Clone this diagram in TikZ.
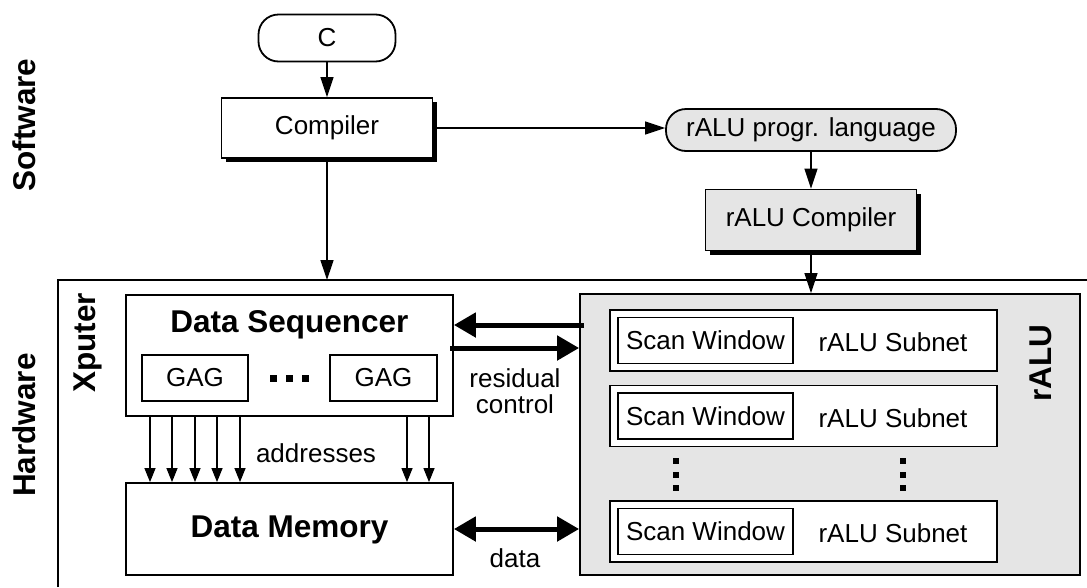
\documentclass[tikz,border=0pt]{standalone}
\usepackage{fontspec}
\setmainfont{Liberation Sans}
\usetikzlibrary{arrows.meta,shadows}
\begin{document}
\begin{tikzpicture}[x=1pt,y=-1pt,
  txt/.style={font=\fontsize{26}{30}\selectfont},
  btxt/.style={font=\bfseries\fontsize{31.5}{36}\selectfont},
  box/.style={draw,line width=1.8pt,fill=white,minimum width=#1,inner sep=0pt},
  shbox/.style={box=#1,drop shadow={shadow xshift=4pt,shadow yshift=-4pt,fill=black,opacity=1}},
  pill/.style={draw,line width=1.8pt,rounded corners=20pt,minimum width=#1,inner sep=0pt},
  arr/.style={line width=1.3pt,-{Triangle[length=20pt,width=13pt]}},
  sarr/.style={line width=1.2pt,-{Triangle[length=14pt,width=11pt]}},
  thick arr/.style={line width=5pt,-{Triangle[length=22pt,width=24pt]}},
  dbl arr/.style={line width=5pt,{Triangle[length=22pt,width=24pt]}-{Triangle[length=22pt,width=24pt]}},
  dot/.style={fill=black,minimum size=#1,inner sep=0pt}
]
\useasboundingbox (0,0) rectangle (1087,587);

% labels
\node[btxt,rotate=90] (sw) at (24,125) {Software};
\node[btxt,rotate=90] (hw) at (24,425) {Hardware};

% software part
\node[pill=137pt,minimum height=47pt,txt] (c) at (327,38) {C};
\node[shbox=211pt,minimum height=60pt,txt] (comp) at (327,128) {Compiler};
\node[pill=290pt,minimum height=42pt,fill=gray!20,txt] (lang) at (811,130) {rALU progr. language};
\node[shbox=211pt,minimum height=61pt,fill=gray!20,txt] (rcomp) at (811,220) {rALU Compiler};

% hardware frame
\coordinate (fl) at (58,587);
\coordinate (ftl) at (58,280);
\coordinate (fr) at (1087,280);
\draw[line width=1.8pt] (fl) -- (ftl) -- (fr);
\node[btxt,rotate=90] (xp) at (88,343) {Xputer};

% data sequencer
\node[box=327pt,minimum height=121pt] (ds) at (289.5,355.5) {};
\node[btxt] (dst) at (289.5,325) {Data Sequencer};
\node[box=106pt,minimum height=46pt,txt] (g1) at (195,378) {GAG};
\node[box=107pt,minimum height=46pt,txt] (g2) at (383.5,378) {GAG};
\node[dot=7pt] (d1) at (273,378) {};
\node[dot=7pt] (d2) at (289,378) {};
\node[dot=7pt] (d3) at (305,378) {};

% data memory
\node[box=327pt,minimum height=92pt] (dm) at (289.5,529) {};
\node[btxt] (dmt) at (289.5,530) {Data Memory};

% rALU
\node[draw,line width=1.8pt,fill=gray!20,minimum width=500pt,minimum height=281pt] (ralu) at (830,434.5) {};
\node[btxt,rotate=90] (ralut) at (1041,363) {rALU};
\foreach \i/\y in {1/340.5,2/416,3/531.5}{
  \node[box=387pt,minimum height=61pt] (sn\i) at (803.5,\y) {};
  \node[box=175pt,minimum height=46pt,txt] (sw\i) at (705.5,\y) {Scan Window};
  \node[txt] (st\i) at (893,\y+2) {rALU Subnet};
}
\foreach \x/\n in {676/a,903/b}{
  \node[dot=6pt] (v\n1) at (\x,461) {};
  \node[dot=6pt] (v\n2) at (\x,474.5) {};
  \node[dot=6pt] (v\n3) at (\x,487.5) {};
}

% connectors software
\draw[arr] (c) -- (comp);
\draw[arr] (comp.east) -- (comp.east -| lang.west);
\coordinate (hwin) at (327,280);
\draw[arr] (comp) -- (hwin);
\draw[arr] (lang) -- (rcomp);
\draw[arr] (rcomp.south) -- (rcomp.south |- ralu.north);

% address arrows
\foreach \x in {150,172,195,217,240,407,429}{
  \draw[sarr] (ds.south -| \x,0) -- (dm.north -| \x,0);
}
\node[txt] (addr) at (316,453) {addresses};

% control and data
\coordinate (cin) at (584,325);
\draw[thick arr] (cin) -- (cin -| ds.east);
\coordinate (cout) at (450,348);
\draw[thick arr] (cout) -- (cout -| ralu.west);
\node[txt,align=center] (rc) at (515,391) {residual\\[-4pt]control};
\coordinate (dd) at (0,529);
\draw[dbl arr] (dd -| dm.east) -- (dd -| ralu.west);
\node[txt] (dt) at (515,558) {data};
\end{tikzpicture}
\end{document}
